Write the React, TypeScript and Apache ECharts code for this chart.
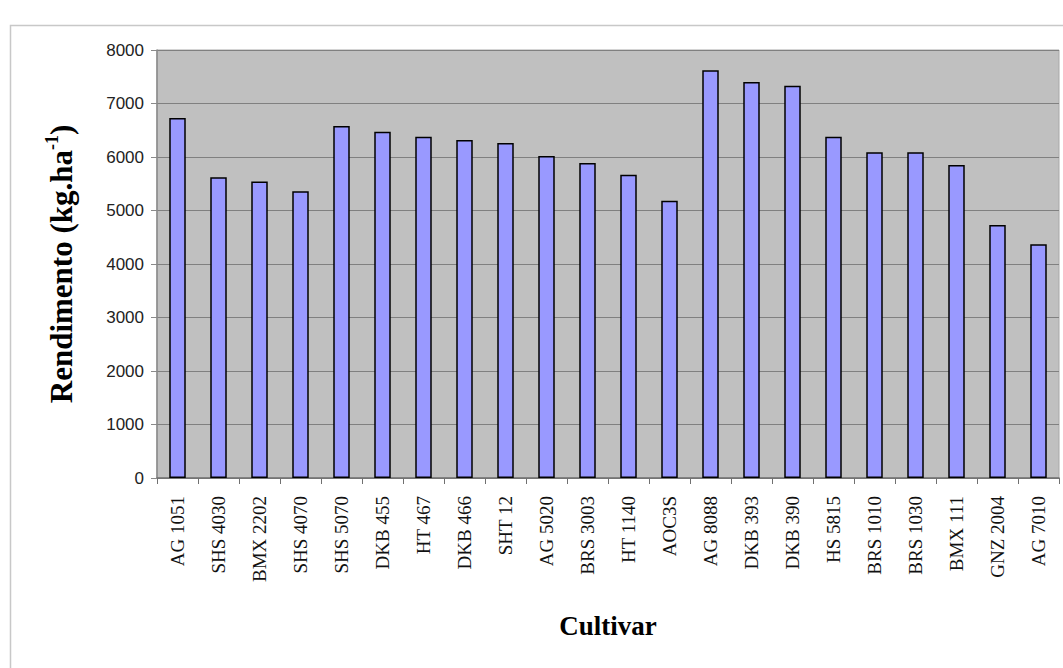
import React, { useEffect, useRef } from "react";
import * as echarts from "echarts";

const categories = [
  "AG 1051", "SHS 4030", "BMX 2202", "SHS 4070", "SHS 5070", "DKB 455",
  "HT 467", "DKB 466", "SHT 12", "AG 5020", "BRS 3003", "HT 1140",
  "AOC3S", "AG 8088", "DKB 393", "DKB 390", "HS 5815", "BRS 1010",
  "BRS 1030", "BMX 111", "GNZ 2004", "AG 7010",
];

const rendimento = [
  6730, 5620, 5540, 5360, 6580, 6470,
  6380, 6320, 6260, 6020, 5890, 5670,
  5180, 7620, 7400, 7330, 6380, 6090,
  6090, 5850, 4730, 4370,
];

const yMin = 0;
const yMax = 8000;
const yInterval = 1000;

export default function App() {
  const ref = useRef<HTMLDivElement>(null);

  useEffect(() => {
    document.body.style.margin = "0";
    if (!ref.current) return;
    const chart = echarts.init(ref.current, null, { renderer: "svg" });
    chart.setOption({
      animation: false,
      backgroundColor: "#ffffff",
      graphic: [
        {
          type: "rect",
          silent: true,
          z: -10,
          shape: { x: 10.5, y: 25.5, width: 1200, height: 800 },
          style: { fill: "none", stroke: "#c8c8c8", lineWidth: 1.5 },
        },
      ],
      grid: {
        left: 157,
        top: 50,
        width: 902,
        height: 428,
        show: true,
        backgroundColor: "#C0C0C0",
        borderColor: "#a8a8a8",
        borderWidth: 1,
        containLabel: false,
      },
      xAxis: {
        type: "category",
        data: categories,
        name: "Cultivar",
        nameLocation: "middle",
        nameGap: 134,
        nameTextStyle: {
          fontFamily: "Liberation Serif",
          fontWeight: "bold",
          fontSize: 27,
          color: "#000",
        },
        axisLine: { show: true, lineStyle: { color: "#707070", width: 1.5 } },
        axisTick: { show: true, length: 6, lineStyle: { color: "#707070" } },
        axisLabel: {
          interval: 0,
          rotate: 90,
          margin: 18,
          fontFamily: "Liberation Serif",
          fontSize: 19,
          color: "#111",
        },
        splitLine: { show: false },
      },
      yAxis: {
        type: "value",
        min: yMin,
        max: yMax,
        interval: yInterval,
        name: "{a|Rendimento (kg.ha}{s|-1}{a|)}",
        nameLocation: "middle",
        nameGap: 78,
        nameTextStyle: {
          rich: {
            a: {
              fontFamily: "Liberation Serif",
              fontWeight: "bold",
              fontSize: 31,
              color: "#000",
              lineHeight: 36,
            },
            s: {
              fontFamily: "Liberation Serif",
              fontWeight: "bold",
              fontSize: 18,
              color: "#000",
              verticalAlign: "top",
              lineHeight: 36,
              padding: [0, 0, 14, 0],
            },
          },
        },
        axisLine: { show: true, lineStyle: { color: "#8a8a8a", width: 1.5 } },
        axisTick: { show: true, length: 6, lineStyle: { color: "#8a8a8a" } },
        axisLabel: {
          margin: 13,
          fontFamily: "Liberation Sans",
          fontSize: 17,
          color: "#222",
          formatter: (v: number) => String(v),
        },
        splitLine: { show: true, lineStyle: { color: "#808080", width: 1.2 } },
      },
      series: [
        {
          type: "bar",
          data: rendimento,
          barWidth: 16.5,
          itemStyle: {
            color: "#9999FF",
            borderColor: "#000000",
            borderWidth: 1.5,
          },
        },
      ],
    });
    return () => chart.dispose();
  }, []);

  return <div ref={ref} style={{ width: 1063, height: 668 }} />;
}
